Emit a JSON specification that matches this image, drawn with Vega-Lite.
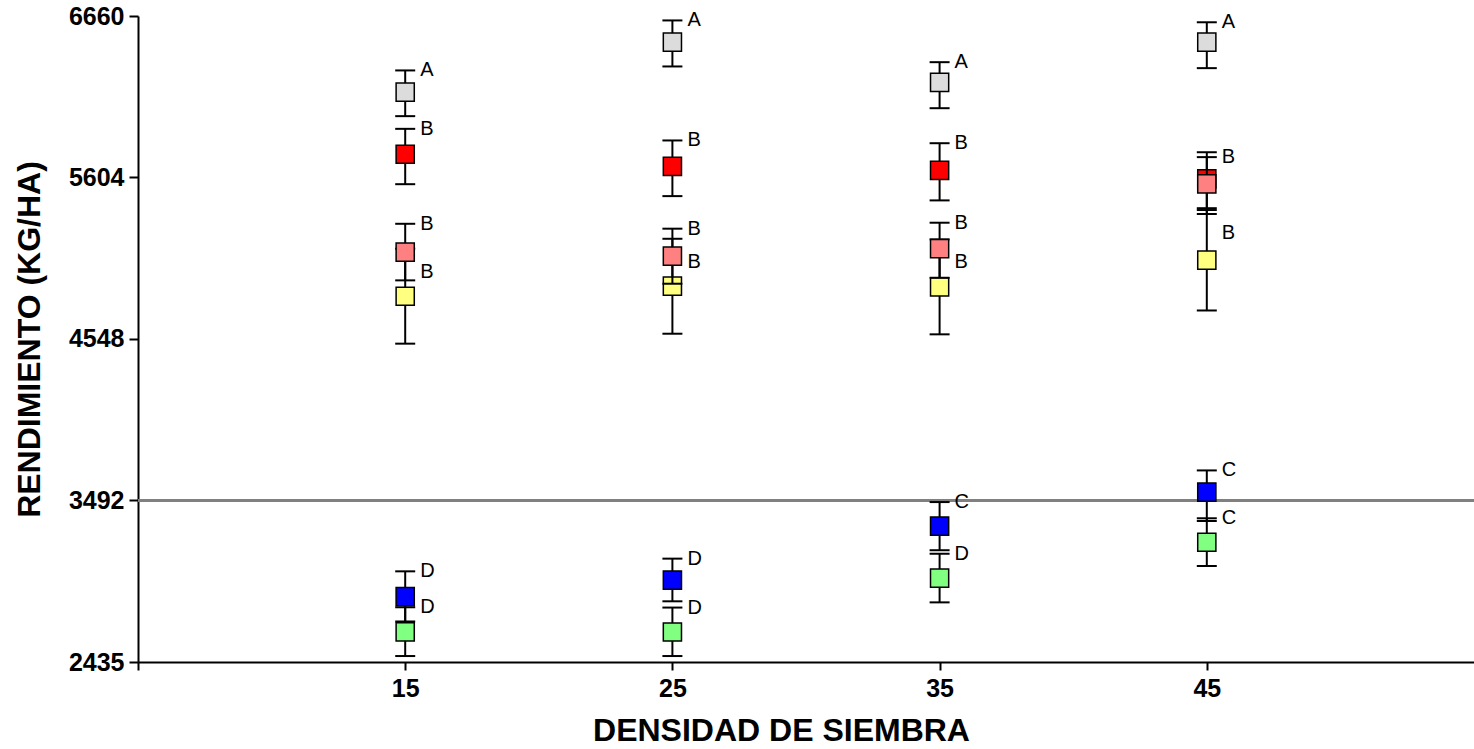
{
  "$schema": "https://vega.github.io/schema/vega-lite/v6.json",
  "width": 1336,
  "height": 646,
  "autosize": "none",
  "padding": {"left": 138, "top": 16, "right": 0, "bottom": 87},
  "data": {"values": [
    {"serie": "S1", "densidad": 15, "rend": 6162, "lo": 6005, "hi": 6304, "letra": "A"},
    {"serie": "S1", "densidad": 25, "rend": 6489, "lo": 6330, "hi": 6631, "letra": "A"},
    {"serie": "S1", "densidad": 35, "rend": 6226, "lo": 6057, "hi": 6358, "letra": "A"},
    {"serie": "S1", "densidad": 45, "rend": 6489, "lo": 6319, "hi": 6619, "letra": "A"},
    {"serie": "S2", "densidad": 15, "rend": 5756, "lo": 5560, "hi": 5922, "letra": "B"},
    {"serie": "S2", "densidad": 25, "rend": 5677, "lo": 5482, "hi": 5846, "letra": "B"},
    {"serie": "S2", "densidad": 35, "rend": 5650, "lo": 5454, "hi": 5828, "letra": "B"},
    {"serie": "S2", "densidad": 45, "rend": 5595, "lo": 5403, "hi": 5769, "letra": ""},
    {"serie": "S3", "densidad": 15, "rend": 4827, "lo": 4517, "hi": 5138, "letra": "B"},
    {"serie": "S3", "densidad": 25, "rend": 4893, "lo": 4582, "hi": 5203, "letra": "B"},
    {"serie": "S3", "densidad": 35, "rend": 4888, "lo": 4578, "hi": 5199, "letra": "B"},
    {"serie": "S3", "densidad": 45, "rend": 5063, "lo": 4734, "hi": 5391, "letra": "B"},
    {"serie": "S4", "densidad": 15, "rend": 5116, "lo": 4931, "hi": 5301, "letra": "B"},
    {"serie": "S4", "densidad": 25, "rend": 5089, "lo": 4909, "hi": 5269, "letra": "B"},
    {"serie": "S4", "densidad": 35, "rend": 5139, "lo": 4948, "hi": 5308, "letra": "B"},
    {"serie": "S4", "densidad": 45, "rend": 5562, "lo": 5365, "hi": 5737, "letra": "B"},
    {"serie": "S5", "densidad": 15, "rend": 2863, "lo": 2700, "hi": 3028, "letra": "D"},
    {"serie": "S5", "densidad": 25, "rend": 2971, "lo": 2832, "hi": 3111, "letra": "D"},
    {"serie": "S5", "densidad": 35, "rend": 3324, "lo": 3166, "hi": 3481, "letra": "C"},
    {"serie": "S5", "densidad": 45, "rend": 3546, "lo": 3357, "hi": 3688, "letra": "C"},
    {"serie": "S6", "densidad": 15, "rend": 2632, "lo": 2474, "hi": 2793, "letra": "D"},
    {"serie": "S6", "densidad": 25, "rend": 2631, "lo": 2474, "hi": 2791, "letra": "D"},
    {"serie": "S6", "densidad": 35, "rend": 2984, "lo": 2825, "hi": 3143, "letra": "D"},
    {"serie": "S6", "densidad": 45, "rend": 3218, "lo": 3063, "hi": 3375, "letra": "C"}
  ]},
  "layer": [
    {
      "mark": {"type": "rule", "color": "#808080", "strokeWidth": 2},
      "encoding": {
        "y": {"datum": 3492, "type": "quantitative",
          "scale": {"domain": [2435, 6660], "nice": false, "zero": false},
          "axis": {"values": [2435, 3492, 4548, 5604, 6660], "format": "d", "tickSize": 9, "labelPadding": 5, "labelFlush": false, "labelOverlap": false,
                   "title": "RENDIMIENTO (KG/HA)", "titleX": -99, "titleBaseline": "alphabetic"}}
      }
    },
    {
      "transform": [{"filter": "datum.serie == 'S1'"}],
      "encoding": {"x": {"field": "densidad", "type": "quantitative",
        "scale": {"domain": [5, 55], "nice": false, "zero": false},
        "axis": {"values": [5, 15, 25, 35, 45], "labelExpr": "datum.value == 5 ? '' : datum.label", "tickSize": 8, "labelPadding": 6, "labelFlush": false, "labelOverlap": false,
                 "title": "DENSIDAD DE SIEMBRA", "titleX": 643, "titleY": 78, "titleAlign": "center", "titleBaseline": "alphabetic"}}},
      "layer": [
        {"mark": {"type": "rule", "color": "black", "strokeWidth": 2}, "encoding": {"y": {"field": "lo", "type": "quantitative", "scale": {"domain": [2435, 6660], "nice": false, "zero": false}}, "y2": {"field": "hi"}}},
        {"mark": {"type": "tick", "orient": "horizontal", "color": "black", "thickness": 2, "size": 20, "opacity": 1}, "encoding": {"y": {"field": "lo", "type": "quantitative", "scale": {"domain": [2435, 6660], "nice": false, "zero": false}}}},
        {"mark": {"type": "tick", "orient": "horizontal", "color": "black", "thickness": 2, "size": 20, "opacity": 1}, "encoding": {"y": {"field": "hi", "type": "quantitative", "scale": {"domain": [2435, 6660], "nice": false, "zero": false}}}},
        {"mark": {"type": "point", "shape": "square", "filled": true, "size": 330, "stroke": "black", "strokeWidth": 1.5, "opacity": 1}, "encoding": {"y": {"field": "rend", "type": "quantitative", "scale": {"domain": [2435, 6660], "nice": false, "zero": false}}, "fill": {"field": "serie", "type": "nominal", "scale": {"domain": ["S1", "S2", "S3", "S4", "S5", "S6"], "range": ["#DCDCDC", "#FF0000", "#FFFF80", "#FF8080", "#0000FF", "#80FF80"]}, "legend": null}}}
      ]
    },
    {
      "transform": [{"filter": "datum.serie == 'S2'"}],
      "encoding": {"x": {"field": "densidad", "type": "quantitative", "scale": {"domain": [5, 55], "nice": false, "zero": false}}},
      "layer": [
        {"mark": {"type": "rule", "color": "black", "strokeWidth": 2}, "encoding": {"y": {"field": "lo", "type": "quantitative", "scale": {"domain": [2435, 6660], "nice": false, "zero": false}}, "y2": {"field": "hi"}}},
        {"mark": {"type": "tick", "orient": "horizontal", "color": "black", "thickness": 2, "size": 20, "opacity": 1}, "encoding": {"y": {"field": "lo", "type": "quantitative", "scale": {"domain": [2435, 6660], "nice": false, "zero": false}}}},
        {"mark": {"type": "tick", "orient": "horizontal", "color": "black", "thickness": 2, "size": 20, "opacity": 1}, "encoding": {"y": {"field": "hi", "type": "quantitative", "scale": {"domain": [2435, 6660], "nice": false, "zero": false}}}},
        {"mark": {"type": "point", "shape": "square", "filled": true, "size": 330, "stroke": "black", "strokeWidth": 1.5, "opacity": 1}, "encoding": {"y": {"field": "rend", "type": "quantitative", "scale": {"domain": [2435, 6660], "nice": false, "zero": false}}, "fill": {"field": "serie", "type": "nominal", "legend": null}}}
      ]
    },
    {
      "transform": [{"filter": "datum.serie == 'S3'"}],
      "encoding": {"x": {"field": "densidad", "type": "quantitative", "scale": {"domain": [5, 55], "nice": false, "zero": false}}},
      "layer": [
        {"mark": {"type": "rule", "color": "black", "strokeWidth": 2}, "encoding": {"y": {"field": "lo", "type": "quantitative", "scale": {"domain": [2435, 6660], "nice": false, "zero": false}}, "y2": {"field": "hi"}}},
        {"mark": {"type": "tick", "orient": "horizontal", "color": "black", "thickness": 2, "size": 20, "opacity": 1}, "encoding": {"y": {"field": "lo", "type": "quantitative", "scale": {"domain": [2435, 6660], "nice": false, "zero": false}}}},
        {"mark": {"type": "tick", "orient": "horizontal", "color": "black", "thickness": 2, "size": 20, "opacity": 1}, "encoding": {"y": {"field": "hi", "type": "quantitative", "scale": {"domain": [2435, 6660], "nice": false, "zero": false}}}},
        {"mark": {"type": "point", "shape": "square", "filled": true, "size": 330, "stroke": "black", "strokeWidth": 1.5, "opacity": 1}, "encoding": {"y": {"field": "rend", "type": "quantitative", "scale": {"domain": [2435, 6660], "nice": false, "zero": false}}, "fill": {"field": "serie", "type": "nominal", "legend": null}}}
      ]
    },
    {
      "transform": [{"filter": "datum.serie == 'S4'"}],
      "encoding": {"x": {"field": "densidad", "type": "quantitative", "scale": {"domain": [5, 55], "nice": false, "zero": false}}},
      "layer": [
        {"mark": {"type": "rule", "color": "black", "strokeWidth": 2}, "encoding": {"y": {"field": "lo", "type": "quantitative", "scale": {"domain": [2435, 6660], "nice": false, "zero": false}}, "y2": {"field": "hi"}}},
        {"mark": {"type": "tick", "orient": "horizontal", "color": "black", "thickness": 2, "size": 20, "opacity": 1}, "encoding": {"y": {"field": "lo", "type": "quantitative", "scale": {"domain": [2435, 6660], "nice": false, "zero": false}}}},
        {"mark": {"type": "tick", "orient": "horizontal", "color": "black", "thickness": 2, "size": 20, "opacity": 1}, "encoding": {"y": {"field": "hi", "type": "quantitative", "scale": {"domain": [2435, 6660], "nice": false, "zero": false}}}},
        {"mark": {"type": "point", "shape": "square", "filled": true, "size": 330, "stroke": "black", "strokeWidth": 1.5, "opacity": 1}, "encoding": {"y": {"field": "rend", "type": "quantitative", "scale": {"domain": [2435, 6660], "nice": false, "zero": false}}, "fill": {"field": "serie", "type": "nominal", "legend": null}}}
      ]
    },
    {
      "transform": [{"filter": "datum.serie == 'S5'"}],
      "encoding": {"x": {"field": "densidad", "type": "quantitative", "scale": {"domain": [5, 55], "nice": false, "zero": false}}},
      "layer": [
        {"mark": {"type": "rule", "color": "black", "strokeWidth": 2}, "encoding": {"y": {"field": "lo", "type": "quantitative", "scale": {"domain": [2435, 6660], "nice": false, "zero": false}}, "y2": {"field": "hi"}}},
        {"mark": {"type": "tick", "orient": "horizontal", "color": "black", "thickness": 2, "size": 20, "opacity": 1}, "encoding": {"y": {"field": "lo", "type": "quantitative", "scale": {"domain": [2435, 6660], "nice": false, "zero": false}}}},
        {"mark": {"type": "tick", "orient": "horizontal", "color": "black", "thickness": 2, "size": 20, "opacity": 1}, "encoding": {"y": {"field": "hi", "type": "quantitative", "scale": {"domain": [2435, 6660], "nice": false, "zero": false}}}},
        {"mark": {"type": "point", "shape": "square", "filled": true, "size": 330, "stroke": "black", "strokeWidth": 1.5, "opacity": 1}, "encoding": {"y": {"field": "rend", "type": "quantitative", "scale": {"domain": [2435, 6660], "nice": false, "zero": false}}, "fill": {"field": "serie", "type": "nominal", "legend": null}}}
      ]
    },
    {
      "transform": [{"filter": "datum.serie == 'S6'"}],
      "encoding": {"x": {"field": "densidad", "type": "quantitative", "scale": {"domain": [5, 55], "nice": false, "zero": false}}},
      "layer": [
        {"mark": {"type": "rule", "color": "black", "strokeWidth": 2}, "encoding": {"y": {"field": "lo", "type": "quantitative", "scale": {"domain": [2435, 6660], "nice": false, "zero": false}}, "y2": {"field": "hi"}}},
        {"mark": {"type": "tick", "orient": "horizontal", "color": "black", "thickness": 2, "size": 20, "opacity": 1}, "encoding": {"y": {"field": "lo", "type": "quantitative", "scale": {"domain": [2435, 6660], "nice": false, "zero": false}}}},
        {"mark": {"type": "tick", "orient": "horizontal", "color": "black", "thickness": 2, "size": 20, "opacity": 1}, "encoding": {"y": {"field": "hi", "type": "quantitative", "scale": {"domain": [2435, 6660], "nice": false, "zero": false}}}},
        {"mark": {"type": "point", "shape": "square", "filled": true, "size": 330, "stroke": "black", "strokeWidth": 1.5, "opacity": 1}, "encoding": {"y": {"field": "rend", "type": "quantitative", "scale": {"domain": [2435, 6660], "nice": false, "zero": false}}, "fill": {"field": "serie", "type": "nominal", "legend": null}}}
      ]
    },
    {
      "transform": [{"filter": "datum.serie != 'S3'"}],
      "mark": {"type": "text", "align": "left", "baseline": "middle", "dx": 15, "dy": 0, "fontSize": 20, "font": "Liberation Sans", "color": "black"},
      "encoding": {
        "x": {"field": "densidad", "type": "quantitative", "scale": {"domain": [5, 55], "nice": false, "zero": false}},
        "y": {"field": "hi", "type": "quantitative", "scale": {"domain": [2435, 6660], "nice": false, "zero": false}},
        "text": {"field": "letra"}
      }
    },
    {
      "transform": [{"filter": "datum.serie == 'S3'"}],
      "mark": {"type": "text", "align": "left", "baseline": "middle", "dx": 15, "dy": 23, "fontSize": 20, "font": "Liberation Sans", "color": "black"},
      "encoding": {
        "x": {"field": "densidad", "type": "quantitative", "scale": {"domain": [5, 55], "nice": false, "zero": false}},
        "y": {"field": "hi", "type": "quantitative", "scale": {"domain": [2435, 6660], "nice": false, "zero": false}},
        "text": {"field": "letra"}
      }
    }
  ],
  "config": {
    "view": {"stroke": null},
    "axis": {
      "domainColor": "black", "domainWidth": 2, "tickColor": "black", "tickWidth": 2, "grid": false,
      "labelFont": "Liberation Sans", "labelFontWeight": "bold", "labelFontSize": 25, "labelColor": "black",
      "titleFont": "Liberation Sans", "titleFontWeight": "bold", "titleFontSize": 32, "titleColor": "black"
    }
  }
}
